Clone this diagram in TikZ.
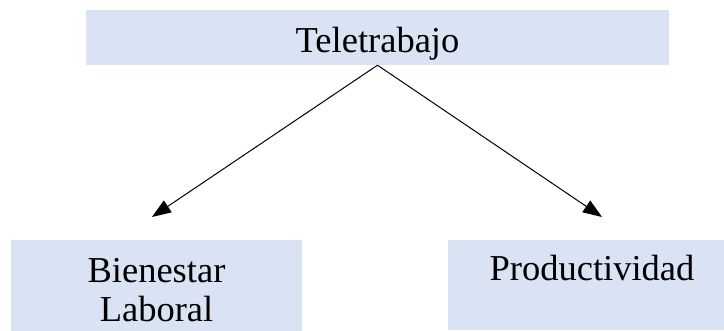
\documentclass[tikz,border=0pt]{standalone}
\usepackage{fontspec}
\setmainfont{Liberation Serif}
\usepackage{tikz}
\usetikzlibrary{arrows.meta, positioning}
\definecolor{boxblue}{HTML}{DAE3F3}
\tikzset{box/.style={fill=boxblue, inner sep=0pt},
         lbl/.style={align=center, inner sep=0pt, anchor=base,
                     font=\fontsize{36.5pt}{39pt}\selectfont},
         arr/.style={line width=1pt, -{Triangle[length=19pt,width=14pt]}}}
\begin{document}
\begin{tikzpicture}[x=1pt, y=-1pt]
\clip (0,0) rectangle (724,331);

\node [box, minimum width=583pt, minimum height=55pt] (tele) at (377.5,37.5) {};
\node [lbl] (teletxt) at ([yshift=-43pt]tele.north) {Teletrabajo};

\node [box, minimum width=291pt, minimum height=93pt] (bien) at (156.5,286.5) {};
% base of a two-line node sits on its last line
\node [lbl] (bientxt) at ([yshift=-82pt]bien.north) {Bienestar\\Laboral};

\node [box, minimum width=288pt, minimum height=90pt] (prod) at (592,285) {};
\node [lbl] (prodtxt) at ([yshift=-41pt]prod.north) {Productividad};

\coordinate (lend) at (152,217);
\coordinate (rend) at (602,217);

\foreach \s/\t in {tele.south/lend,
                   tele.south/rend}
    \draw [arr] (\s) -- (\t);

\end{tikzpicture}
\end{document}
